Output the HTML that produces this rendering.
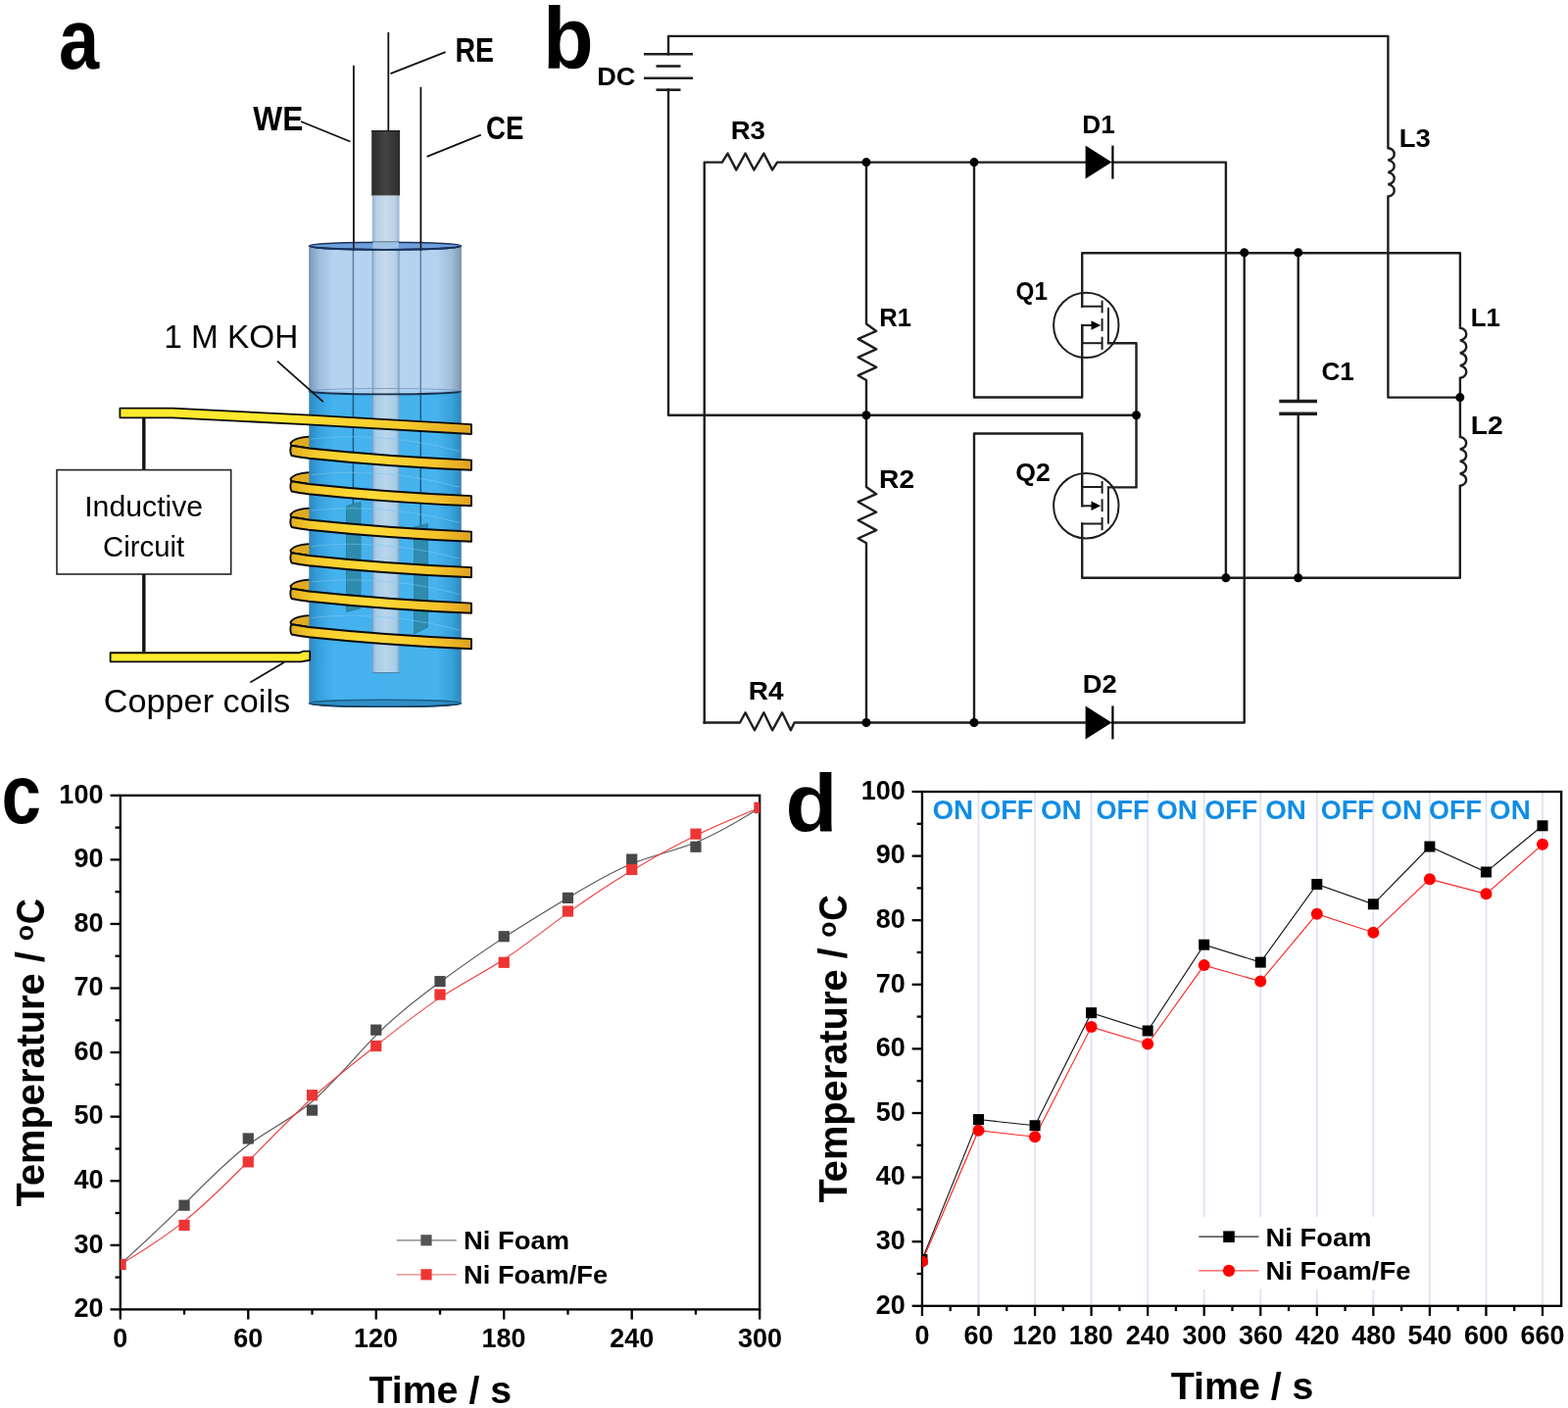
<!DOCTYPE html>
<html><head><meta charset="utf-8"><title>Figure</title>
<style>html,body{margin:0;padding:0;background:#fff;}svg{display:block;}
text{font-family:'Liberation Sans', Arial, sans-serif;}</style></head>
<body><svg width="1600" height="1437" viewBox="0 0 1600 1437">
<rect x="0" y="0" width="1600" height="1437" fill="#fff"/>
<text transform="translate(59.88,70.03) scale(0.8546,1)" font-size="86.58" font-weight="bold" fill="#000" >a</text>
<text transform="translate(553.90,70.00) scale(0.9416,1)" font-size="89.80" font-weight="bold" fill="#000" >b</text>
<text transform="translate(1.59,839.65) scale(0.8528,1)" font-size="85.39" font-weight="bold" fill="#000" >c</text>
<text transform="translate(801.53,848.66) scale(1.0354,1)" font-size="83.67" font-weight="bold" fill="#000" >d</text>
<defs>
<linearGradient id="glass" x1="0" x2="1" y1="0" y2="0">
 <stop offset="0" stop-color="#7d99b8"/><stop offset="0.07" stop-color="#9fbfdf"/>
 <stop offset="0.16" stop-color="#b4d3f0"/><stop offset="0.84" stop-color="#b4d3f0"/>
 <stop offset="0.93" stop-color="#a2bfdc"/><stop offset="1" stop-color="#8099b4"/>
</linearGradient>
<linearGradient id="liq" x1="0" x2="1" y1="0" y2="0">
 <stop offset="0" stop-color="#2b88c0"/><stop offset="0.06" stop-color="#37a0dc"/>
 <stop offset="0.16" stop-color="#44b2ee"/><stop offset="0.84" stop-color="#46b3ee"/>
 <stop offset="0.94" stop-color="#38a0da"/><stop offset="1" stop-color="#2b88c0"/>
</linearGradient>
<linearGradient id="tubeU" x1="0" x2="1" y1="0" y2="0">
 <stop offset="0" stop-color="#94b2cf"/><stop offset="0.15" stop-color="#b9d0e6"/>
 <stop offset="0.5" stop-color="#c8dbec"/><stop offset="0.85" stop-color="#b9d0e6"/><stop offset="1" stop-color="#94b2cf"/>
</linearGradient>
<linearGradient id="tubeL" x1="0" x2="1" y1="0" y2="0">
 <stop offset="0" stop-color="#86b6d8"/><stop offset="0.15" stop-color="#a9cde8"/>
 <stop offset="0.5" stop-color="#b8d6ec"/><stop offset="0.85" stop-color="#a9cde8"/><stop offset="1" stop-color="#86b6d8"/>
</linearGradient>
<linearGradient id="cap" x1="0" x2="1" y1="0" y2="0">
 <stop offset="0" stop-color="#2c2c2c"/><stop offset="0.5" stop-color="#444"/><stop offset="1" stop-color="#2c2c2c"/>
</linearGradient>
<linearGradient id="band" gradientUnits="userSpaceOnUse" x1="296" x2="482" y1="0" y2="0">
 <stop offset="0" stop-color="#e2ae22"/><stop offset="0.14" stop-color="#f6cc2c"/>
 <stop offset="0.45" stop-color="#fdda36"/><stop offset="0.8" stop-color="#f4c42a"/><stop offset="1" stop-color="#dea020"/>
</linearGradient>
<linearGradient id="lead" gradientUnits="userSpaceOnUse" x1="122" x2="482" y1="0" y2="0">
 <stop offset="0" stop-color="#fdea2e"/><stop offset="0.47" stop-color="#fde82f"/><stop offset="0.56" stop-color="#fad832"/>
 <stop offset="0.8" stop-color="#f6cc2c"/><stop offset="1" stop-color="#e0a420"/>
</linearGradient>
</defs>
<line x1="396.30" y1="33.00" x2="396.30" y2="134.00" stroke="#111" stroke-width="1.8" />
<line x1="360.90" y1="66.70" x2="360.90" y2="252.00" stroke="#111" stroke-width="1.8" />
<line x1="429.40" y1="88.80" x2="429.40" y2="252.00" stroke="#111" stroke-width="1.8" />
<rect x="379.2" y="133.1" width="28.9" height="66.6" fill="url(#cap)"/>
<line x1="379.20" y1="133.60" x2="408.10" y2="133.60" stroke="#1a1a1a" stroke-width="1.2" />
<rect x="379.8" y="199.7" width="27.7" height="52" fill="url(#tubeU)"/>
<path d="M 322 445.30 L 316 445.60 C 306 446.20 298.6 448.60 296.5 452.30 C 296.6 453.50 297 454.30 297.5 454.75 Q 305 455.70 315 457.50 L 322 458.20 Z" fill="#e0aa22" stroke="none"/>
<path d="M 322 445.30 L 316 445.60 C 306 446.20 298.6 448.60 296.5 452.30 C 296.6 453.50 297 454.30 297.5 454.75 Q 305 455.70 315 457.50 L 322 458.20" fill="none" stroke="#0a0a0a" stroke-width="1.9" stroke-linejoin="round"/>
<path d="M 322 481.80 L 316 482.10 C 306 482.70 298.6 485.10 296.5 488.80 C 296.6 490.00 297 490.80 297.5 491.25 Q 305 492.20 315 494.00 L 322 494.70 Z" fill="#e0aa22" stroke="none"/>
<path d="M 322 481.80 L 316 482.10 C 306 482.70 298.6 485.10 296.5 488.80 C 296.6 490.00 297 490.80 297.5 491.25 Q 305 492.20 315 494.00 L 322 494.70" fill="none" stroke="#0a0a0a" stroke-width="1.9" stroke-linejoin="round"/>
<path d="M 322 518.30 L 316 518.60 C 306 519.20 298.6 521.60 296.5 525.30 C 296.6 526.50 297 527.30 297.5 527.75 Q 305 528.70 315 530.50 L 322 531.20 Z" fill="#e0aa22" stroke="none"/>
<path d="M 322 518.30 L 316 518.60 C 306 519.20 298.6 521.60 296.5 525.30 C 296.6 526.50 297 527.30 297.5 527.75 Q 305 528.70 315 530.50 L 322 531.20" fill="none" stroke="#0a0a0a" stroke-width="1.9" stroke-linejoin="round"/>
<path d="M 322 554.80 L 316 555.10 C 306 555.70 298.6 558.10 296.5 561.80 C 296.6 563.00 297 563.80 297.5 564.25 Q 305 565.20 315 567.00 L 322 567.70 Z" fill="#e0aa22" stroke="none"/>
<path d="M 322 554.80 L 316 555.10 C 306 555.70 298.6 558.10 296.5 561.80 C 296.6 563.00 297 563.80 297.5 564.25 Q 305 565.20 315 567.00 L 322 567.70" fill="none" stroke="#0a0a0a" stroke-width="1.9" stroke-linejoin="round"/>
<path d="M 322 591.30 L 316 591.60 C 306 592.20 298.6 594.60 296.5 598.30 C 296.6 599.50 297 600.30 297.5 600.75 Q 305 601.70 315 603.50 L 322 604.20 Z" fill="#e0aa22" stroke="none"/>
<path d="M 322 591.30 L 316 591.60 C 306 592.20 298.6 594.60 296.5 598.30 C 296.6 599.50 297 600.30 297.5 600.75 Q 305 601.70 315 603.50 L 322 604.20" fill="none" stroke="#0a0a0a" stroke-width="1.9" stroke-linejoin="round"/>
<path d="M 322 627.80 L 316 628.10 C 306 628.70 298.6 631.10 296.5 634.80 C 296.6 636.00 297 636.80 297.5 637.25 Q 305 638.20 315 640.00 L 322 640.70 Z" fill="#e0aa22" stroke="none"/>
<path d="M 322 627.80 L 316 628.10 C 306 628.70 298.6 631.10 296.5 634.80 C 296.6 636.00 297 636.80 297.5 637.25 Q 305 638.20 315 640.00 L 322 640.70" fill="none" stroke="#0a0a0a" stroke-width="1.9" stroke-linejoin="round"/>
<rect x="315.5" y="251" width="155.1" height="149" fill="url(#glass)"/>
<rect x="315.5" y="399.5" width="155.1" height="319" fill="url(#liq)"/>
<path d="M 315.5 399.4 A 77.55 2.9 0 0 0 470.6 399.4 Z" fill="url(#glass)"/>
<ellipse cx="393.05" cy="717.8" rx="77.55" ry="3.6" fill="#2f8fc6" stroke="#1d5f88" stroke-width="1.4"/>
<path d="M 315.5 717.5 A 77.55 3.8 0 0 0 470.6 717.5" fill="none" stroke="#163f5e" stroke-width="1.6"/>
<rect x="379.8" y="251" width="27.7" height="151.5" fill="url(#tubeU)" opacity="0.9"/>
<rect x="379.8" y="402.3" width="27.7" height="284.7" fill="url(#tubeL)"/>
<line x1="380.30" y1="251.00" x2="380.30" y2="687.00" stroke="#7a9cbc" stroke-width="1.0" />
<line x1="407.00" y1="251.00" x2="407.00" y2="687.00" stroke="#7a9cbc" stroke-width="1.0" />
<line x1="379.80" y1="686.60" x2="407.50" y2="686.60" stroke="#4f86ad" stroke-width="1.2" />
<line x1="360.40" y1="251.00" x2="360.40" y2="401.50" stroke="#5a7d9e" stroke-width="1.4" />
<line x1="429.30" y1="251.00" x2="429.30" y2="401.50" stroke="#5a7d9e" stroke-width="1.4" />
<line x1="360.40" y1="401.50" x2="360.40" y2="515.00" stroke="#1c5d8c" stroke-width="1.5" />
<line x1="429.30" y1="401.50" x2="429.30" y2="536.00" stroke="#1c5d8c" stroke-width="1.5" />
<polygon points="353.5,516.5 368,512.5 368,620.7 353.5,624.4" fill="#2f8cae" stroke="#267a99" stroke-width="0.8"/>
<polygon points="422.6,538 436.4,534.5 436.4,640 422.6,647" fill="#2f8cae" stroke="#267a99" stroke-width="0.8"/>
<path d="M 317.5 448.0 Q 393.1 440.0 468.6 460.5" fill="none" stroke="#7cc8f0" stroke-width="1.2" opacity="0.55"/>
<path d="M 317.5 484.5 Q 393.1 476.5 468.6 497.0" fill="none" stroke="#7cc8f0" stroke-width="1.2" opacity="0.55"/>
<path d="M 317.5 521.0 Q 393.1 513.0 468.6 533.5" fill="none" stroke="#7cc8f0" stroke-width="1.2" opacity="0.55"/>
<path d="M 317.5 557.5 Q 393.1 549.5 468.6 570.0" fill="none" stroke="#7cc8f0" stroke-width="1.2" opacity="0.55"/>
<path d="M 317.5 594.0 Q 393.1 586.0 468.6 606.5" fill="none" stroke="#7cc8f0" stroke-width="1.2" opacity="0.55"/>
<path d="M 317.5 630.5 Q 393.1 622.5 468.6 643.0" fill="none" stroke="#7cc8f0" stroke-width="1.2" opacity="0.55"/>
<ellipse cx="393.05" cy="251" rx="77.55" ry="3.8" fill="#6f9fda" stroke="#16305a" stroke-width="1.6"/>
<rect x="380.5" y="247" width="26.3" height="8" fill="#a9c9e6" opacity="0.85"/>
<line x1="360.90" y1="246.00" x2="360.90" y2="256.00" stroke="#1a1a1a" stroke-width="1.6" />
<line x1="429.40" y1="246.00" x2="429.40" y2="256.00" stroke="#1a1a1a" stroke-width="1.6" />
<path d="M 315.5 251 A 77.55 3.8 0 0 0 470.6 251" fill="none" stroke="#16305a" stroke-width="1.8"/>
<path d="M 315.5 399.4 A 77.55 2.9 0 0 1 470.6 399.4" fill="none" stroke="#6f95b8" stroke-width="1" opacity="0.8"/>
<path d="M 315.5 399.4 A 77.55 2.9 0 0 0 470.6 399.4" fill="none" stroke="#16324f" stroke-width="1.8"/>
<line x1="315.90" y1="251.00" x2="315.90" y2="718.00" stroke="#5d7d9d" stroke-width="1.0" opacity="0.7"/>
<line x1="470.20" y1="251.00" x2="470.20" y2="718.00" stroke="#5d7d9d" stroke-width="1.0" opacity="0.7"/>
<path d="M 297.5 454.75 Q 305 455.70 315 457.50 Q 395 465.90 481 469.60 L 481 479.75 Q 395 476.20 315 467.75 Q 305 466.40 297.6 465.00 C 295.9 462.50 295.9 457.20 297.5 454.75 Z" fill="url(#band)" stroke="#0a0a0a" stroke-width="1.9" stroke-linejoin="round"/>
<path d="M 297.5 491.25 Q 305 492.20 315 494.00 Q 395 502.40 481 506.10 L 481 516.25 Q 395 512.70 315 504.25 Q 305 502.90 297.6 501.50 C 295.9 499.00 295.9 493.70 297.5 491.25 Z" fill="url(#band)" stroke="#0a0a0a" stroke-width="1.9" stroke-linejoin="round"/>
<path d="M 297.5 527.75 Q 305 528.70 315 530.50 Q 395 538.90 481 542.60 L 481 552.75 Q 395 549.20 315 540.75 Q 305 539.40 297.6 538.00 C 295.9 535.50 295.9 530.20 297.5 527.75 Z" fill="url(#band)" stroke="#0a0a0a" stroke-width="1.9" stroke-linejoin="round"/>
<path d="M 297.5 564.25 Q 305 565.20 315 567.00 Q 395 575.40 481 579.10 L 481 589.25 Q 395 585.70 315 577.25 Q 305 575.90 297.6 574.50 C 295.9 572.00 295.9 566.70 297.5 564.25 Z" fill="url(#band)" stroke="#0a0a0a" stroke-width="1.9" stroke-linejoin="round"/>
<path d="M 297.5 600.75 Q 305 601.70 315 603.50 Q 395 611.90 481 615.60 L 481 625.75 Q 395 622.20 315 613.75 Q 305 612.40 297.6 611.00 C 295.9 608.50 295.9 603.20 297.5 600.75 Z" fill="url(#band)" stroke="#0a0a0a" stroke-width="1.9" stroke-linejoin="round"/>
<path d="M 297.5 637.25 Q 305 638.20 315 640.00 Q 395 648.40 481 652.10 L 481 662.25 Q 395 658.70 315 650.25 Q 305 648.90 297.6 647.50 C 295.9 645.00 295.9 639.70 297.5 637.25 Z" fill="url(#band)" stroke="#0a0a0a" stroke-width="1.9" stroke-linejoin="round"/>
<path d="M 122.4 416.7 L 176 416.7 L 315.6 423.6 Q 398 428.4 481 433.1 L 481 443 Q 398 438.3 315.6 433.4 L 176 426.3 L 122.4 426.3 Z" fill="url(#lead)" stroke="#0a0a0a" stroke-width="1.8" stroke-linejoin="round"/>
<path d="M 112.6 666.25 L 305.6 666.25 L 309.4 664.7 L 316.2 664.7 L 316.2 673.75 L 307 675.3 L 112.6 675.3 Z" fill="#fdea2e" stroke="#0a0a0a" stroke-width="1.8" stroke-linejoin="round"/>
<line x1="146.80" y1="426.00" x2="146.80" y2="480.00" stroke="#111" stroke-width="3.4" />
<line x1="146.80" y1="586.00" x2="146.80" y2="665.50" stroke="#111" stroke-width="3.4" />
<rect x="58" y="479.6" width="177.7" height="106.4" fill="#fff" stroke="#222" stroke-width="1.6"/>
<text transform="translate(86.20,526.90) scale(1.0075,1)" font-size="30.00" font-weight="normal" fill="#000" >Inductive</text>
<text transform="translate(105.03,568.00) scale(0.9778,1)" font-size="30.00" font-weight="normal" fill="#000" >Circuit</text>
<line x1="398.50" y1="75.20" x2="454.60" y2="53.10" stroke="#111" stroke-width="1.8" />
<line x1="307.10" y1="124.00" x2="357.40" y2="144.50" stroke="#111" stroke-width="1.8" />
<line x1="435.60" y1="159.90" x2="490.80" y2="137.60" stroke="#111" stroke-width="1.8" />
<line x1="283.00" y1="368.60" x2="329.80" y2="410.20" stroke="#111" stroke-width="1.8" />
<line x1="255.30" y1="696.60" x2="289.90" y2="676.10" stroke="#111" stroke-width="1.8" />
<text transform="translate(464.48,62.90) scale(0.8249,1)" font-size="34.50" font-weight="bold" fill="#000" >RE</text>
<text transform="translate(258.32,133.20) scale(0.9045,1)" font-size="35.00" font-weight="bold" fill="#000" >WE</text>
<text transform="translate(495.99,142.10) scale(0.8128,1)" font-size="34.00" font-weight="bold" fill="#000" >CE</text>
<text transform="translate(167.25,355.30) scale(0.9813,1)" font-size="34.00" font-weight="normal" fill="#000" >1 M KOH</text>
<text transform="translate(105.69,727.40) scale(1.0233,1)" font-size="33.50" font-weight="normal" fill="#000" >Copper coils</text>
<polyline points="718.75,737.50 718.75,165.60 736.90,165.60 742.50,156.60 751.25,173.40 760.60,156.60 769.40,173.40 779.40,156.60 788.10,173.40 793.10,165.60 1107.60,165.60" fill="none" stroke="#1e1e1e" stroke-width="2.4"  stroke-linecap="square" stroke-linejoin="round"/>
<polyline points="718.75,737.50 755.00,737.50 760.60,727.30 770.00,745.30 779.40,727.30 788.10,745.30 798.10,727.30 806.90,745.30 810.60,737.50 1107.60,737.50" fill="none" stroke="#1e1e1e" stroke-width="2.4"  stroke-linecap="square" stroke-linejoin="round"/>
<polyline points="682.00,55.30 682.00,36.90 1416.40,36.90 1416.40,151.00" fill="none" stroke="#1e1e1e" stroke-width="2.4"  stroke-linecap="square" stroke-linejoin="round"/>
<polyline points="682.00,91.70 682.00,423.80 1159.50,423.80" fill="none" stroke="#1e1e1e" stroke-width="2.4"  stroke-linecap="square" stroke-linejoin="round"/>
<line x1="657.00" y1="55.30" x2="707.00" y2="55.30" stroke="#1e1e1e" stroke-width="2.6" />
<line x1="669.50" y1="67.50" x2="694.50" y2="67.50" stroke="#1e1e1e" stroke-width="2.6" />
<line x1="657.00" y1="79.80" x2="707.00" y2="79.80" stroke="#1e1e1e" stroke-width="2.6" />
<line x1="669.50" y1="91.70" x2="694.50" y2="91.70" stroke="#1e1e1e" stroke-width="2.6" />
<polyline points="884.00,165.60 884.00,330.60 894.20,337.90 875.70,345.90 894.20,356.40 875.70,364.70 894.20,374.80 875.70,383.20 884.00,388.00 884.00,423.80" fill="none" stroke="#1e1e1e" stroke-width="2.4"  stroke-linecap="square" stroke-linejoin="round"/>
<polyline points="884.00,423.80 884.00,496.90 894.20,504.20 875.70,512.20 894.20,522.70 875.70,531.00 894.20,541.10 875.70,549.50 884.00,554.30 884.00,737.50" fill="none" stroke="#1e1e1e" stroke-width="2.4"  stroke-linecap="square" stroke-linejoin="round"/>
<polyline points="994.00,165.60 994.00,405.50 1104.20,405.50 1104.20,332.00" fill="none" stroke="#1e1e1e" stroke-width="2.4"  stroke-linecap="square" stroke-linejoin="round"/>
<polyline points="994.00,737.50 994.00,442.50 1104.20,442.50 1104.20,516.30" fill="none" stroke="#1e1e1e" stroke-width="2.4"  stroke-linecap="square" stroke-linejoin="round"/>
<polyline points="1104.20,312.70 1104.20,258.20 1489.90,258.20 1489.90,334.60" fill="none" stroke="#1e1e1e" stroke-width="2.4"  stroke-linecap="square" stroke-linejoin="round"/>
<polyline points="1104.20,534.50 1104.20,589.70 1489.80,589.70 1489.80,496.00" fill="none" stroke="#1e1e1e" stroke-width="2.4"  stroke-linecap="square" stroke-linejoin="round"/>
<polyline points="1130.90,350.20 1159.50,350.20 1159.50,497.40 1130.90,497.40" fill="none" stroke="#1e1e1e" stroke-width="2.4"  stroke-linecap="square" stroke-linejoin="round"/>
<polyline points="1135.50,165.60 1250.90,165.60 1250.90,589.70" fill="none" stroke="#1e1e1e" stroke-width="2.4"  stroke-linecap="square" stroke-linejoin="round"/>
<polyline points="1135.00,737.50 1269.70,737.50 1269.70,257.80" fill="none" stroke="#1e1e1e" stroke-width="2.4"  stroke-linecap="square" stroke-linejoin="round"/>
<polyline points="1324.70,257.80 1324.70,409.50" fill="none" stroke="#1e1e1e" stroke-width="2.4"  stroke-linecap="square" stroke-linejoin="round"/>
<polyline points="1324.70,422.20 1324.70,589.70" fill="none" stroke="#1e1e1e" stroke-width="2.4"  stroke-linecap="square" stroke-linejoin="round"/>
<line x1="1305.30" y1="409.50" x2="1344.00" y2="409.50" stroke="#1e1e1e" stroke-width="3.4" />
<line x1="1305.30" y1="422.20" x2="1344.00" y2="422.20" stroke="#1e1e1e" stroke-width="3.4" />
<path d="M 1416.4 151.00 A 9.0 6.50 0 0 1 1416.4 163.40 A 9.0 6.50 0 0 1 1416.4 175.80 A 9.0 6.50 0 0 1 1416.4 188.20 A 9.0 6.50 0 0 1 1416.4 200.60 " fill="none" stroke="#1e1e1e" stroke-width="2.4"/>
<polyline points="1416.40,200.60 1416.40,405.60 1489.80,405.60" fill="none" stroke="#1e1e1e" stroke-width="2.4"  stroke-linecap="square" stroke-linejoin="round"/>
<path d="M 1489.9 334.60 A 9.0 6.71 0 0 1 1489.9 347.43 A 9.0 6.71 0 0 1 1489.9 360.25 A 9.0 6.71 0 0 1 1489.9 373.07 A 9.0 6.71 0 0 1 1489.9 385.90 " fill="none" stroke="#1e1e1e" stroke-width="2.4"/>
<polyline points="1489.90,385.90 1489.90,445.90" fill="none" stroke="#1e1e1e" stroke-width="2.4"  stroke-linecap="square" stroke-linejoin="round"/>
<path d="M 1489.8 445.90 A 9.0 6.56 0 0 1 1489.8 458.42 A 9.0 6.56 0 0 1 1489.8 470.95 A 9.0 6.56 0 0 1 1489.8 483.48 A 9.0 6.56 0 0 1 1489.8 496.00 " fill="none" stroke="#1e1e1e" stroke-width="2.4"/>
<polygon points="1107.6,148.60 1107.6,182.60 1134.4,165.60" fill="#000"/>
<line x1="1135.40" y1="148.60" x2="1135.40" y2="182.60" stroke="#000" stroke-width="2.2" />
<polygon points="1107.6,720.40 1107.6,754.40 1134.4,737.40" fill="#000"/>
<line x1="1135.40" y1="720.40" x2="1135.40" y2="754.40" stroke="#000" stroke-width="2.2" />
<circle cx="1108.3" cy="331.90" r="33.2" fill="none" stroke="#1e1e1e" stroke-width="2"/>
<line x1="1104.20" y1="312.70" x2="1124.60" y2="312.70" stroke="#1e1e1e" stroke-width="2" />
<line x1="1104.20" y1="350.20" x2="1124.60" y2="350.20" stroke="#1e1e1e" stroke-width="2" />
<line x1="1104.20" y1="332.00" x2="1114.50" y2="332.00" stroke="#1e1e1e" stroke-width="2" />
<polygon points="1113.5,327.20 1113.5,336.80 1123.2,332.00" fill="#000"/>
<line x1="1104.20" y1="332.00" x2="1104.20" y2="350.20" stroke="#1e1e1e" stroke-width="2" />
<line x1="1124.60" y1="306.70" x2="1124.60" y2="319.40" stroke="#1e1e1e" stroke-width="2" />
<line x1="1124.60" y1="325.00" x2="1124.60" y2="337.90" stroke="#1e1e1e" stroke-width="2" />
<line x1="1124.60" y1="343.70" x2="1124.60" y2="356.90" stroke="#1e1e1e" stroke-width="2" />
<line x1="1130.90" y1="313.90" x2="1130.90" y2="350.20" stroke="#1e1e1e" stroke-width="2" />
<circle cx="1108.3" cy="516.20" r="33.2" fill="none" stroke="#1e1e1e" stroke-width="2"/>
<line x1="1104.20" y1="497.00" x2="1124.60" y2="497.00" stroke="#1e1e1e" stroke-width="2" />
<line x1="1104.20" y1="534.50" x2="1124.60" y2="534.50" stroke="#1e1e1e" stroke-width="2" />
<line x1="1104.20" y1="516.30" x2="1114.50" y2="516.30" stroke="#1e1e1e" stroke-width="2" />
<polygon points="1113.5,511.50 1113.5,521.10 1123.2,516.30" fill="#000"/>
<line x1="1124.60" y1="491.00" x2="1124.60" y2="503.70" stroke="#1e1e1e" stroke-width="2" />
<line x1="1124.60" y1="509.30" x2="1124.60" y2="522.20" stroke="#1e1e1e" stroke-width="2" />
<line x1="1124.60" y1="528.00" x2="1124.60" y2="541.20" stroke="#1e1e1e" stroke-width="2" />
<line x1="1130.90" y1="498.20" x2="1130.90" y2="534.50" stroke="#1e1e1e" stroke-width="2" />
<circle cx="884.00" cy="165.60" r="4.5" fill="#000"/>
<circle cx="994.00" cy="165.60" r="4.5" fill="#000"/>
<circle cx="884.00" cy="423.80" r="4.5" fill="#000"/>
<circle cx="1159.50" cy="423.80" r="4.5" fill="#000"/>
<circle cx="884.00" cy="737.50" r="4.5" fill="#000"/>
<circle cx="994.00" cy="737.50" r="4.5" fill="#000"/>
<circle cx="1269.70" cy="257.80" r="4.5" fill="#000"/>
<circle cx="1324.70" cy="257.80" r="4.5" fill="#000"/>
<circle cx="1250.90" cy="589.70" r="4.5" fill="#000"/>
<circle cx="1324.70" cy="589.70" r="4.5" fill="#000"/>
<circle cx="1489.80" cy="405.60" r="4.5" fill="#000"/>
<text transform="translate(609.17,86.60) scale(1.0231,1)" font-size="26.50" font-weight="bold" fill="#000" >DC</text>
<text transform="translate(745.63,142.25) scale(1.0438,1)" font-size="26.50" font-weight="bold" fill="#000" >R3</text>
<text transform="translate(1104.23,136.00) scale(0.9893,1)" font-size="26.50" font-weight="bold" fill="#000" >D1</text>
<text transform="translate(897.27,332.70) scale(0.9669,1)" font-size="26.50" font-weight="bold" fill="#000" >R1</text>
<text transform="translate(1036.53,305.80) scale(0.9158,1)" font-size="26.50" font-weight="bold" fill="#000" >Q1</text>
<text transform="translate(1427.84,150.10) scale(1.0371,1)" font-size="26.50" font-weight="bold" fill="#000" >L3</text>
<text transform="translate(1500.86,332.70) scale(0.9734,1)" font-size="26.50" font-weight="bold" fill="#000" >L1</text>
<text transform="translate(1348.45,387.80) scale(0.9886,1)" font-size="26.50" font-weight="bold" fill="#000" >C1</text>
<text transform="translate(897.10,498.30) scale(1.0643,1)" font-size="26.50" font-weight="bold" fill="#000" >R2</text>
<text transform="translate(1036.33,490.50) scale(1.0063,1)" font-size="26.50" font-weight="bold" fill="#000" >Q2</text>
<text transform="translate(1500.69,443.10) scale(1.0705,1)" font-size="26.50" font-weight="bold" fill="#000" >L2</text>
<text transform="translate(763.71,713.75) scale(1.0585,1)" font-size="26.50" font-weight="bold" fill="#000" >R4</text>
<text transform="translate(1104.75,707.00) scale(1.0321,1)" font-size="26.50" font-weight="bold" fill="#000" >D2</text>
<line x1="112.50" y1="1336.40" x2="122.80" y2="1336.40" stroke="#000" stroke-width="2.3" />
<text x="75.41" y="1344.20" font-size="27.00" font-weight="bold" fill="#000">20</text>
<line x1="112.50" y1="1270.83" x2="122.80" y2="1270.83" stroke="#000" stroke-width="2.3" />
<text x="75.41" y="1278.62" font-size="27.00" font-weight="bold" fill="#000">30</text>
<line x1="112.50" y1="1205.25" x2="122.80" y2="1205.25" stroke="#000" stroke-width="2.3" />
<text x="75.41" y="1213.05" font-size="27.00" font-weight="bold" fill="#000">40</text>
<line x1="112.50" y1="1139.67" x2="122.80" y2="1139.67" stroke="#000" stroke-width="2.3" />
<text x="75.41" y="1147.47" font-size="27.00" font-weight="bold" fill="#000">50</text>
<line x1="112.50" y1="1074.10" x2="122.80" y2="1074.10" stroke="#000" stroke-width="2.3" />
<text x="75.41" y="1081.90" font-size="27.00" font-weight="bold" fill="#000">60</text>
<line x1="112.50" y1="1008.52" x2="122.80" y2="1008.52" stroke="#000" stroke-width="2.3" />
<text x="75.41" y="1016.32" font-size="27.00" font-weight="bold" fill="#000">70</text>
<line x1="112.50" y1="942.95" x2="122.80" y2="942.95" stroke="#000" stroke-width="2.3" />
<text x="75.41" y="950.75" font-size="27.00" font-weight="bold" fill="#000">80</text>
<line x1="112.50" y1="877.38" x2="122.80" y2="877.38" stroke="#000" stroke-width="2.3" />
<text x="75.41" y="885.17" font-size="27.00" font-weight="bold" fill="#000">90</text>
<line x1="112.50" y1="811.80" x2="122.80" y2="811.80" stroke="#000" stroke-width="2.3" />
<text x="60.36" y="819.60" font-size="27.00" font-weight="bold" fill="#000">100</text>
<line x1="117.50" y1="1303.61" x2="122.80" y2="1303.61" stroke="#000" stroke-width="2.3" />
<line x1="117.50" y1="1238.04" x2="122.80" y2="1238.04" stroke="#000" stroke-width="2.3" />
<line x1="117.50" y1="1172.46" x2="122.80" y2="1172.46" stroke="#000" stroke-width="2.3" />
<line x1="117.50" y1="1106.89" x2="122.80" y2="1106.89" stroke="#000" stroke-width="2.3" />
<line x1="117.50" y1="1041.31" x2="122.80" y2="1041.31" stroke="#000" stroke-width="2.3" />
<line x1="117.50" y1="975.74" x2="122.80" y2="975.74" stroke="#000" stroke-width="2.3" />
<line x1="117.50" y1="910.16" x2="122.80" y2="910.16" stroke="#000" stroke-width="2.3" />
<line x1="117.50" y1="844.59" x2="122.80" y2="844.59" stroke="#000" stroke-width="2.3" />
<line x1="122.80" y1="1336.40" x2="122.80" y2="1346.60" stroke="#000" stroke-width="2.3" />
<text x="115.31" y="1375.30" font-size="27.00" font-weight="bold" fill="#000">0</text>
<line x1="253.28" y1="1336.40" x2="253.28" y2="1346.60" stroke="#000" stroke-width="2.3" />
<text x="238.33" y="1375.30" font-size="27.00" font-weight="bold" fill="#000">60</text>
<line x1="383.76" y1="1336.40" x2="383.76" y2="1346.60" stroke="#000" stroke-width="2.3" />
<text x="360.95" y="1375.30" font-size="27.00" font-weight="bold" fill="#000">120</text>
<line x1="514.24" y1="1336.40" x2="514.24" y2="1346.60" stroke="#000" stroke-width="2.3" />
<text x="491.43" y="1375.30" font-size="27.00" font-weight="bold" fill="#000">180</text>
<line x1="644.72" y1="1336.40" x2="644.72" y2="1346.60" stroke="#000" stroke-width="2.3" />
<text x="622.28" y="1375.30" font-size="27.00" font-weight="bold" fill="#000">240</text>
<line x1="775.20" y1="1336.40" x2="775.20" y2="1346.60" stroke="#000" stroke-width="2.3" />
<text x="752.93" y="1375.30" font-size="27.00" font-weight="bold" fill="#000">300</text>
<line x1="188.04" y1="1336.40" x2="188.04" y2="1341.70" stroke="#000" stroke-width="2.3" />
<line x1="318.52" y1="1336.40" x2="318.52" y2="1341.70" stroke="#000" stroke-width="2.3" />
<line x1="449.00" y1="1336.40" x2="449.00" y2="1341.70" stroke="#000" stroke-width="2.3" />
<line x1="579.48" y1="1336.40" x2="579.48" y2="1341.70" stroke="#000" stroke-width="2.3" />
<line x1="709.96" y1="1336.40" x2="709.96" y2="1341.70" stroke="#000" stroke-width="2.3" />
<rect x="122.80" y="811.80" width="652.40" height="524.60" fill="none" stroke="#000" stroke-width="2.3"/>
<clipPath id="clipc"><rect x="122.80" y="811.80" width="652.40" height="524.60"/></clipPath>
<g clip-path="url(#clipc)">
<path d="M 122.80 1290.50 C 122.80 1290.50 122.80 1290.50 133.67 1280.44 C 144.55 1270.39 166.29 1250.28 188.04 1228.86 C 209.79 1207.44 231.53 1184.70 253.28 1168.53 C 275.03 1152.35 296.77 1142.74 318.52 1124.26 C 340.27 1105.79 362.01 1078.47 383.76 1056.56 C 405.51 1034.65 427.25 1018.14 449.00 1002.24 C 470.75 986.34 492.49 971.04 514.24 956.83 C 535.99 942.62 557.73 929.51 579.48 916.39 C 601.23 903.28 622.97 890.16 644.72 881.47 C 666.47 872.78 688.21 868.52 709.96 859.77 C 731.71 851.01 753.45 837.77 764.33 831.14 C 775.20 824.52 775.20 824.52 775.20 824.52 " fill="none" stroke="#555" stroke-width="1.15"/>
<path d="M 122.80 1290.50 C 122.80 1290.50 122.80 1290.50 133.67 1283.83 C 144.55 1277.16 166.29 1263.83 188.04 1246.39 C 209.79 1228.94 231.53 1207.39 253.28 1185.26 C 275.03 1163.13 296.77 1140.42 318.52 1120.70 C 340.27 1100.99 362.01 1084.26 383.76 1067.16 C 405.51 1050.06 427.25 1032.57 449.00 1018.36 C 470.75 1004.15 492.49 993.22 514.24 979.05 C 535.99 964.87 557.73 947.45 579.48 931.65 C 601.23 915.85 622.97 901.66 644.72 888.51 C 666.47 875.36 688.21 863.25 709.96 852.72 C 731.71 842.18 753.45 833.22 764.33 828.74 C 775.20 824.26 775.20 824.26 775.20 824.26 " fill="none" stroke="#f04040" stroke-width="1.15"/>
<rect x="117.20" y="1284.90" width="11.2" height="11.2" fill="#484848"/>
<rect x="182.44" y="1224.57" width="11.2" height="11.2" fill="#484848"/>
<rect x="247.68" y="1156.37" width="11.2" height="11.2" fill="#484848"/>
<rect x="312.92" y="1127.52" width="11.2" height="11.2" fill="#484848"/>
<rect x="378.16" y="1045.55" width="11.2" height="11.2" fill="#484848"/>
<rect x="443.40" y="996.04" width="11.2" height="11.2" fill="#484848"/>
<rect x="508.64" y="950.14" width="11.2" height="11.2" fill="#484848"/>
<rect x="573.88" y="910.79" width="11.2" height="11.2" fill="#484848"/>
<rect x="639.12" y="871.45" width="11.2" height="11.2" fill="#484848"/>
<rect x="704.36" y="858.66" width="11.2" height="11.2" fill="#484848"/>
<rect x="769.60" y="818.92" width="11.2" height="11.2" fill="#484848"/>
<rect x="117.20" y="1284.90" width="11.2" height="11.2" fill="#ee3535"/>
<rect x="182.44" y="1244.90" width="11.2" height="11.2" fill="#ee3535"/>
<rect x="247.68" y="1180.24" width="11.2" height="11.2" fill="#ee3535"/>
<rect x="312.92" y="1112.11" width="11.2" height="11.2" fill="#ee3535"/>
<rect x="378.16" y="1061.94" width="11.2" height="11.2" fill="#ee3535"/>
<rect x="443.40" y="1009.48" width="11.2" height="11.2" fill="#ee3535"/>
<rect x="508.64" y="976.69" width="11.2" height="11.2" fill="#ee3535"/>
<rect x="573.88" y="924.43" width="11.2" height="11.2" fill="#ee3535"/>
<rect x="639.12" y="881.87" width="11.2" height="11.2" fill="#ee3535"/>
<rect x="704.36" y="845.54" width="11.2" height="11.2" fill="#ee3535"/>
<rect x="769.60" y="818.66" width="11.2" height="11.2" fill="#ee3535"/>
</g>
<line x1="404.75" y1="1265.80" x2="465.80" y2="1265.80" stroke="#777" stroke-width="1.3" />
<rect x="429.40" y="1260.20" width="11.2" height="11.2" fill="#555"/>
<line x1="404.75" y1="1300.80" x2="465.80" y2="1300.80" stroke="#f08080" stroke-width="1.3" />
<rect x="429.40" y="1295.20" width="11.2" height="11.2" fill="#ee3535"/>
<text transform="translate(473.05,1275.20) scale(1.0337,1)" font-size="26.50" font-weight="bold" fill="#000" >Ni Foam</text>
<text transform="translate(473.06,1309.80) scale(1.0306,1)" font-size="26.50" font-weight="bold" fill="#000" >Ni Foam/Fe</text>
<text transform="translate(376.41,1431.90) scale(1.0219,1)" font-size="38.50" font-weight="bold" fill="#000" >Time / s</text>
<text transform="translate(45.30,1231.40) rotate(-90)" font-size="39.8" font-weight="bold" fill="#000">Temperature /</text>
<text transform="translate(34.30,960.36) rotate(-90)" font-size="26.5" font-weight="bold" fill="#000">o</text>
<text transform="translate(45.30,943.15) rotate(-90) scale(0.9091,1)" font-size="39.8" font-weight="bold" fill="#000">C</text>
<line x1="998.50" y1="808.00" x2="998.50" y2="1332.80" stroke="#e0e0f3" stroke-width="1.7"/>
<line x1="1056.05" y1="808.00" x2="1056.05" y2="1332.80" stroke="#e0e0f3" stroke-width="1.7"/>
<line x1="1113.60" y1="808.00" x2="1113.60" y2="1332.80" stroke="#e0e0f3" stroke-width="1.7"/>
<line x1="1171.15" y1="808.00" x2="1171.15" y2="1332.80" stroke="#e0e0f3" stroke-width="1.7"/>
<line x1="1228.70" y1="808.00" x2="1228.70" y2="1332.80" stroke="#e0e0f3" stroke-width="1.7"/>
<line x1="1286.25" y1="808.00" x2="1286.25" y2="1332.80" stroke="#e0e0f3" stroke-width="1.7"/>
<line x1="1343.80" y1="808.00" x2="1343.80" y2="1332.80" stroke="#e0e0f3" stroke-width="1.7"/>
<line x1="1401.35" y1="808.00" x2="1401.35" y2="1332.80" stroke="#e0e0f3" stroke-width="1.7"/>
<line x1="1458.90" y1="808.00" x2="1458.90" y2="1332.80" stroke="#e0e0f3" stroke-width="1.7"/>
<line x1="1516.45" y1="808.00" x2="1516.45" y2="1332.80" stroke="#e0e0f3" stroke-width="1.7"/>
<line x1="1574.00" y1="808.00" x2="1574.00" y2="1332.80" stroke="#e0e0f3" stroke-width="1.7"/>
<rect x="1214" y="1242" width="232" height="74" fill="#fff"/>
<line x1="930.65" y1="1332.80" x2="940.95" y2="1332.80" stroke="#000" stroke-width="2.3" />
<text x="893.71" y="1340.60" font-size="27.00" font-weight="bold" fill="#000">20</text>
<line x1="930.65" y1="1267.20" x2="940.95" y2="1267.20" stroke="#000" stroke-width="2.3" />
<text x="893.71" y="1275.00" font-size="27.00" font-weight="bold" fill="#000">30</text>
<line x1="930.65" y1="1201.60" x2="940.95" y2="1201.60" stroke="#000" stroke-width="2.3" />
<text x="893.71" y="1209.40" font-size="27.00" font-weight="bold" fill="#000">40</text>
<line x1="930.65" y1="1136.00" x2="940.95" y2="1136.00" stroke="#000" stroke-width="2.3" />
<text x="893.71" y="1143.80" font-size="27.00" font-weight="bold" fill="#000">50</text>
<line x1="930.65" y1="1070.40" x2="940.95" y2="1070.40" stroke="#000" stroke-width="2.3" />
<text x="893.71" y="1078.20" font-size="27.00" font-weight="bold" fill="#000">60</text>
<line x1="930.65" y1="1004.80" x2="940.95" y2="1004.80" stroke="#000" stroke-width="2.3" />
<text x="893.71" y="1012.60" font-size="27.00" font-weight="bold" fill="#000">70</text>
<line x1="930.65" y1="939.20" x2="940.95" y2="939.20" stroke="#000" stroke-width="2.3" />
<text x="893.71" y="947.00" font-size="27.00" font-weight="bold" fill="#000">80</text>
<line x1="930.65" y1="873.60" x2="940.95" y2="873.60" stroke="#000" stroke-width="2.3" />
<text x="893.71" y="881.40" font-size="27.00" font-weight="bold" fill="#000">90</text>
<line x1="930.65" y1="808.00" x2="940.95" y2="808.00" stroke="#000" stroke-width="2.3" />
<text x="878.66" y="815.80" font-size="27.00" font-weight="bold" fill="#000">100</text>
<line x1="935.65" y1="1300.00" x2="940.95" y2="1300.00" stroke="#000" stroke-width="2.3" />
<line x1="935.65" y1="1234.40" x2="940.95" y2="1234.40" stroke="#000" stroke-width="2.3" />
<line x1="935.65" y1="1168.80" x2="940.95" y2="1168.80" stroke="#000" stroke-width="2.3" />
<line x1="935.65" y1="1103.20" x2="940.95" y2="1103.20" stroke="#000" stroke-width="2.3" />
<line x1="935.65" y1="1037.60" x2="940.95" y2="1037.60" stroke="#000" stroke-width="2.3" />
<line x1="935.65" y1="972.00" x2="940.95" y2="972.00" stroke="#000" stroke-width="2.3" />
<line x1="935.65" y1="906.40" x2="940.95" y2="906.40" stroke="#000" stroke-width="2.3" />
<line x1="935.65" y1="840.80" x2="940.95" y2="840.80" stroke="#000" stroke-width="2.3" />
<line x1="940.95" y1="1332.80" x2="940.95" y2="1343.00" stroke="#000" stroke-width="2.3" />
<text x="933.46" y="1371.60" font-size="27.00" font-weight="bold" fill="#000">0</text>
<line x1="998.50" y1="1332.80" x2="998.50" y2="1343.00" stroke="#000" stroke-width="2.3" />
<text x="983.55" y="1371.60" font-size="27.00" font-weight="bold" fill="#000">60</text>
<line x1="1056.05" y1="1332.80" x2="1056.05" y2="1343.00" stroke="#000" stroke-width="2.3" />
<text x="1033.23" y="1371.60" font-size="27.00" font-weight="bold" fill="#000">120</text>
<line x1="1113.60" y1="1332.80" x2="1113.60" y2="1343.00" stroke="#000" stroke-width="2.3" />
<text x="1090.79" y="1371.60" font-size="27.00" font-weight="bold" fill="#000">180</text>
<line x1="1171.15" y1="1332.80" x2="1171.15" y2="1343.00" stroke="#000" stroke-width="2.3" />
<text x="1148.71" y="1371.60" font-size="27.00" font-weight="bold" fill="#000">240</text>
<line x1="1228.70" y1="1332.80" x2="1228.70" y2="1343.00" stroke="#000" stroke-width="2.3" />
<text x="1206.42" y="1371.60" font-size="27.00" font-weight="bold" fill="#000">300</text>
<line x1="1286.25" y1="1332.80" x2="1286.25" y2="1343.00" stroke="#000" stroke-width="2.3" />
<text x="1263.97" y="1371.60" font-size="27.00" font-weight="bold" fill="#000">360</text>
<line x1="1343.80" y1="1332.80" x2="1343.80" y2="1343.00" stroke="#000" stroke-width="2.3" />
<text x="1321.63" y="1371.60" font-size="27.00" font-weight="bold" fill="#000">420</text>
<line x1="1401.35" y1="1332.80" x2="1401.35" y2="1343.00" stroke="#000" stroke-width="2.3" />
<text x="1379.18" y="1371.60" font-size="27.00" font-weight="bold" fill="#000">480</text>
<line x1="1458.90" y1="1332.80" x2="1458.90" y2="1343.00" stroke="#000" stroke-width="2.3" />
<text x="1436.49" y="1371.60" font-size="27.00" font-weight="bold" fill="#000">540</text>
<line x1="1516.45" y1="1332.80" x2="1516.45" y2="1343.00" stroke="#000" stroke-width="2.3" />
<text x="1493.97" y="1371.60" font-size="27.00" font-weight="bold" fill="#000">600</text>
<line x1="1574.00" y1="1332.80" x2="1574.00" y2="1343.00" stroke="#000" stroke-width="2.3" />
<text x="1551.52" y="1371.60" font-size="27.00" font-weight="bold" fill="#000">660</text>
<line x1="969.73" y1="1332.80" x2="969.73" y2="1338.10" stroke="#000" stroke-width="2.3" />
<line x1="1027.28" y1="1332.80" x2="1027.28" y2="1338.10" stroke="#000" stroke-width="2.3" />
<line x1="1084.83" y1="1332.80" x2="1084.83" y2="1338.10" stroke="#000" stroke-width="2.3" />
<line x1="1142.38" y1="1332.80" x2="1142.38" y2="1338.10" stroke="#000" stroke-width="2.3" />
<line x1="1199.93" y1="1332.80" x2="1199.93" y2="1338.10" stroke="#000" stroke-width="2.3" />
<line x1="1257.47" y1="1332.80" x2="1257.47" y2="1338.10" stroke="#000" stroke-width="2.3" />
<line x1="1315.03" y1="1332.80" x2="1315.03" y2="1338.10" stroke="#000" stroke-width="2.3" />
<line x1="1372.58" y1="1332.80" x2="1372.58" y2="1338.10" stroke="#000" stroke-width="2.3" />
<line x1="1430.12" y1="1332.80" x2="1430.12" y2="1338.10" stroke="#000" stroke-width="2.3" />
<line x1="1487.68" y1="1332.80" x2="1487.68" y2="1338.10" stroke="#000" stroke-width="2.3" />
<line x1="1545.22" y1="1332.80" x2="1545.22" y2="1338.10" stroke="#000" stroke-width="2.3" />
<rect x="940.95" y="808.00" width="652.23" height="524.80" fill="none" stroke="#000" stroke-width="2.3"/>
<clipPath id="clipd"><rect x="940.95" y="808.00" width="652.23" height="524.80"/></clipPath>
<g clip-path="url(#clipd)">
<polyline points="940.95,1285.57 998.50,1142.56 1056.05,1148.73 1113.60,1033.66 1171.15,1052.03 1228.70,964.19 1286.25,982.10 1343.80,902.46 1401.35,922.80 1458.90,864.02 1516.45,890.00 1574.00,842.77" fill="none" stroke="#111" stroke-width="1.1" stroke-linejoin="miter" />
<polyline points="940.95,1287.54 998.50,1153.71 1056.05,1160.27 1113.60,1048.10 1171.15,1065.48 1228.70,985.12 1286.25,1001.52 1343.80,932.64 1401.35,951.66 1458.90,897.22 1516.45,912.30 1574.00,861.79" fill="none" stroke="#ff2020" stroke-width="1.1" stroke-linejoin="miter" />
<rect x="935.45" y="1280.07" width="11" height="11" fill="#000"/>
<rect x="993.00" y="1137.06" width="11" height="11" fill="#000"/>
<rect x="1050.55" y="1143.23" width="11" height="11" fill="#000"/>
<rect x="1108.10" y="1028.16" width="11" height="11" fill="#000"/>
<rect x="1165.65" y="1046.53" width="11" height="11" fill="#000"/>
<rect x="1223.20" y="958.69" width="11" height="11" fill="#000"/>
<rect x="1280.75" y="976.60" width="11" height="11" fill="#000"/>
<rect x="1338.30" y="896.96" width="11" height="11" fill="#000"/>
<rect x="1395.85" y="917.30" width="11" height="11" fill="#000"/>
<rect x="1453.40" y="858.52" width="11" height="11" fill="#000"/>
<rect x="1510.95" y="884.50" width="11" height="11" fill="#000"/>
<rect x="1568.50" y="837.27" width="11" height="11" fill="#000"/>
<circle cx="940.95" cy="1287.54" r="6" fill="#ff0000"/>
<circle cx="998.50" cy="1153.71" r="6" fill="#ff0000"/>
<circle cx="1056.05" cy="1160.27" r="6" fill="#ff0000"/>
<circle cx="1113.60" cy="1048.10" r="6" fill="#ff0000"/>
<circle cx="1171.15" cy="1065.48" r="6" fill="#ff0000"/>
<circle cx="1228.70" cy="985.12" r="6" fill="#ff0000"/>
<circle cx="1286.25" cy="1001.52" r="6" fill="#ff0000"/>
<circle cx="1343.80" cy="932.64" r="6" fill="#ff0000"/>
<circle cx="1401.35" cy="951.66" r="6" fill="#ff0000"/>
<circle cx="1458.90" cy="897.22" r="6" fill="#ff0000"/>
<circle cx="1516.45" cy="912.30" r="6" fill="#ff0000"/>
<circle cx="1574.00" cy="861.79" r="6" fill="#ff0000"/>
</g>
<line x1="1223.30" y1="1262.20" x2="1284.50" y2="1262.20" stroke="#222" stroke-width="1.3" />
<rect x="1248.2" y="1256.4" width="11.6" height="11.6" fill="#000"/>
<line x1="1223.30" y1="1296.90" x2="1284.50" y2="1296.90" stroke="#ff5050" stroke-width="1.3" />
<circle cx="1254" cy="1296.9" r="6.1" fill="#ff0000"/>
<text transform="translate(1291.55,1271.90) scale(1.0327,1)" font-size="26.50" font-weight="bold" fill="#000" >Ni Foam</text>
<text transform="translate(1291.55,1306.00) scale(1.0356,1)" font-size="26.50" font-weight="bold" fill="#000" >Ni Foam/Fe</text>
<text transform="translate(951.39,835.90)" font-size="27.80" font-weight="bold" fill="#108de6" >ON</text>
<text transform="translate(1000.17,835.90) scale(0.9730,1)" font-size="27.80" font-weight="bold" fill="#108de6" >OFF</text>
<text transform="translate(1061.89,835.90)" font-size="27.80" font-weight="bold" fill="#108de6" >ON</text>
<text transform="translate(1118.42,835.90) scale(0.9730,1)" font-size="27.80" font-weight="bold" fill="#108de6" >OFF</text>
<text transform="translate(1180.19,835.90)" font-size="27.80" font-weight="bold" fill="#108de6" >ON</text>
<text transform="translate(1229.32,835.90) scale(0.9730,1)" font-size="27.80" font-weight="bold" fill="#108de6" >OFF</text>
<text transform="translate(1291.19,835.90)" font-size="27.80" font-weight="bold" fill="#108de6" >ON</text>
<text transform="translate(1347.72,835.90) scale(0.9730,1)" font-size="27.80" font-weight="bold" fill="#108de6" >OFF</text>
<text transform="translate(1409.29,835.90)" font-size="27.80" font-weight="bold" fill="#108de6" >ON</text>
<text transform="translate(1457.92,835.90) scale(0.9730,1)" font-size="27.80" font-weight="bold" fill="#108de6" >OFF</text>
<text transform="translate(1520.09,835.90)" font-size="27.80" font-weight="bold" fill="#108de6" >ON</text>
<text transform="translate(1194.71,1428.00) scale(1.0212,1)" font-size="38.50" font-weight="bold" fill="#000" >Time / s</text>
<text transform="translate(863.80,1227.60) rotate(-90)" font-size="39.8" font-weight="bold" fill="#000">Temperature /</text>
<text transform="translate(852.80,956.76) rotate(-90)" font-size="26.5" font-weight="bold" fill="#000">o</text>
<text transform="translate(863.80,939.77) rotate(-90) scale(0.9245,1)" font-size="39.8" font-weight="bold" fill="#000">C</text>
</svg></body></html>
